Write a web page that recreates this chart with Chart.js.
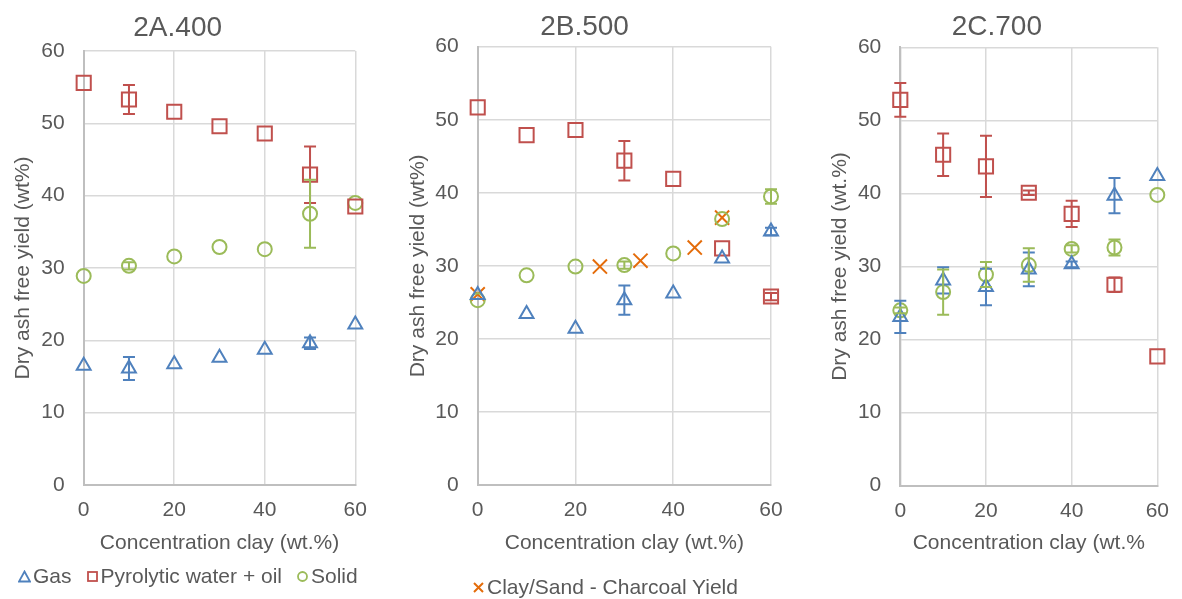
<!DOCTYPE html>
<html>
<head>
<meta charset="utf-8">
<script src="https://cdn.jsdelivr.net/npm/chart.js@4.4.1/dist/chart.umd.min.js"></script>
<style>
  html, body { margin: 0; padding: 0; background: #fff; }
  #wrap { position: relative; width: 1182px; height: 599px; overflow: hidden; font-family: "Liberation Sans", Arial, sans-serif; color: #595959; }
  .box { position: absolute; top: 0; }
  .legend { position: absolute; font-size: 21px; white-space: nowrap; display: flex; align-items: center; }
  .legend svg { margin-right: 2px; }
  .legend span.item { margin-right: 14px; display: inline-flex; align-items: center; }
</style>
</head>
<body>
<div id="wrap">
  <div class="box" style="left:0px"><canvas id="c400" width="391" height="565"></canvas></div>
  <div class="box" style="left:398px"><canvas id="c500" width="399" height="565"></canvas></div>
  <div class="box" style="left:827px"><canvas id="c700" width="355" height="565"></canvas></div>
  <div class="legend" style="left:18px; top:564px;">
    <span class="item"><svg width="13" height="13"><polygon points="6.5,1.5 12,11.5 1,11.5" fill="none" stroke="#4F81BD" stroke-width="1.8"/></svg>Gas</span>
    <span class="item"><svg width="13" height="13"><rect x="2" y="2" width="9" height="9" fill="none" stroke="#C0504D" stroke-width="1.8"/></svg>Pyrolytic water + oil</span>
    <span class="item"><svg width="13" height="13"><circle cx="6.5" cy="6.5" r="4.5" fill="none" stroke="#9BBB59" stroke-width="1.8"/></svg>Solid</span>
  </div>
  <div class="legend" style="left:472px; top:575px;">
    <span class="item"><svg width="13" height="13"><path d="M2,2 L11,11 M11,2 L2,11" stroke="#E46C0A" stroke-width="2"/></svg>Clay/Sand - Charcoal Yield</span>
  </div>
</div>
<script>
// concentration clay (wt.%) - mesmo eixo x para os 3 graficos
const clayPct = [0, 10, 20, 30, 40, 50, 60];
const xTicks = [0, 20, 40, 60];
const yTicks = [0, 10, 20, 30, 40, 50, 60];

// 2A.400
const gas400 = [16.5, 16.1, 16.7, 17.6, 18.7, 19.6, 22.2];
const gasErr400 = [0, 1.6, 0, 0, 0, 0.8, 0];
const liquid400 = [55.6, 53.3, 51.6, 49.6, 48.6, 42.9, 38.5];
const liquidErr400 = [0, 2.0, 0, 0, 0, 3.9, 0];
const solid400 = [28.9, 30.3, 31.6, 32.9, 32.6, 37.5, 39.0];
const solidErr400 = [0, 0.5, 0, 0, 0, 4.7, 0];

// 2B.500
const gas500 = [26.0, 23.4, 21.4, 25.3, 26.2, 31.0, 34.7];
const gasErr500 = [0, 0, 0, 2.0, 0, 0, 0.5];
const liquid500 = [51.7, 47.9, 48.6, 44.4, 41.9, 32.4, 25.8];
const liquidErr500 = [0, 0, 0, 2.7, 0, 0, 0.5];
const solid500 = [25.3, 28.7, 29.9, 30.1, 31.7, 36.4, 39.5];
const solidErr500 = [0, 0, 0, 0.5, 0, 0, 1.0];
const charcoalClay = [0, 25, 33.3, 44.4, 50];
const charcoalYield = [26.1, 29.9, 30.7, 32.5, 36.6];

// 2C.700
const gas700 = [23.1, 28.1, 27.2, 29.6, 30.3, 39.7, 42.4];
const gasErr700 = [2.2, 1.8, 2.5, 2.3, 0.4, 2.4, 0];
const liquid700 = [52.8, 45.3, 43.7, 40.1, 37.2, 27.5, 17.7];
const liquidErr700 = [2.3, 2.9, 4.2, 0.3, 1.8, 1.0, 0];
const solid700 = [24.0, 26.5, 28.9, 30.2, 32.4, 32.6, 39.8];
const solidErr700 = [0.4, 3.1, 1.7, 2.3, 0.5, 1.1, 0];

const FONT = '"Liberation Sans", Arial, sans-serif';
const TXT = '#595959';
const BLUE = '#4F81BD', RED = '#C0504D', GREEN = '#9BBB59', ORANGE = '#E46C0A';

const pts = (xs, ys) => ys.map((v, i) => ({ x: xs[i], y: v }));

// barras de erro verticais (Excel), desenhadas pelas escalas
const errorBars = {
  id: 'errorBars',
  afterDatasetsDraw(chart) {
    const { ctx, scales: { x, y } } = chart;
    chart.data.datasets.forEach((ds) => {
      if (!ds.errors) return;
      ctx.save();
      ctx.strokeStyle = ds.borderColor;
      ctx.lineWidth = 2;
      ds.data.forEach((p, j) => {
        const e = ds.errors[j];
        if (!e) return;
        const px = x.getPixelForValue(p.x);
        const top = y.getPixelForValue(p.y + e);
        const bot = y.getPixelForValue(p.y - e);
        ctx.beginPath();
        ctx.moveTo(px, top); ctx.lineTo(px, bot);
        ctx.moveTo(px - 6, top); ctx.lineTo(px + 6, top);
        ctx.moveTo(px - 6, bot); ctx.lineTo(px + 6, bot);
        ctx.stroke();
      });
      ctx.restore();
    });
  },
};

function series(label, xs, ys, errs, color, style, radius) {
  return {
    label,
    data: pts(xs, ys),
    errors: errs,
    borderColor: color,
    backgroundColor: 'rgba(0,0,0,0)',
    pointStyle: style,
    pointRadius: radius,
    pointHoverRadius: radius,
    pointBorderWidth: 2,
    clip: false,
  };
}

function makeChart(id, o) {
  return new Chart(document.getElementById(id), {
    type: 'scatter',
    data: { datasets: o.datasets },
    plugins: [errorBars],
    options: {
      responsive: false,
      animation: false,
      layout: { padding: { left: 0, right: o.padRight, top: 0, bottom: 0 } },
      plugins: {
        legend: { display: false },
        tooltip: { enabled: false },
        title: {
          display: true,
          text: o.title,
          color: TXT,
          font: { family: FONT, size: 28, weight: 'normal' },
          padding: { top: o.titleTop, bottom: o.titleBottom },
        },
      },
      scales: {
        x: {
          type: 'linear', min: 0, max: 60,
          afterBuildTicks: (s) => { s.ticks = xTicks.map((v) => ({ value: v })); },
          afterFit: (s) => { s.height = o.xHeight; },
          grid: { color: '#d9d9d9', lineWidth: 1.5, drawTicks: false },
          border: { color: '#bfbfbf', width: 2 },
          ticks: { padding: 13, color: TXT, font: { family: FONT, size: 21 } },
          title: { display: true, text: o.xTitle, color: TXT, font: { family: FONT, size: 21 }, padding: { top: 0, bottom: 9 } },
        },
        y: {
          type: 'linear', min: 0, max: 60,
          afterBuildTicks: (s) => { s.ticks = yTicks.map((v) => ({ value: v })); },
          afterFit: (s) => { s.width = o.yWidth; },
          grid: { color: '#d9d9d9', lineWidth: 1.5, drawTicks: false },
          border: { color: '#bfbfbf', width: 2 },
          ticks: { padding: 19, color: TXT, font: { family: FONT, size: 21 } },
          title: { display: true, text: o.yTitle, color: TXT, font: { family: FONT, size: 21 }, padding: { top: o.yTitlePad, bottom: 0 } },
        },
      },
    },
  });
}

makeChart('c400', {
  title: '2A.400', titleTop: 11, titleBottom: 6.4,
  xTitle: 'Concentration clay (wt.%)', yTitle: 'Dry ash free yield (wt%)',
  yWidth: 83.7, xHeight: 80, padRight: 35.7, yTitlePad: 10.4,
  datasets: [
    series('Gas', clayPct, gas400, gasErr400, BLUE, 'triangle', 8),
    series('Pyrolytic water + oil', clayPct, liquid400, liquidErr400, RED, 'rect', 10),
    series('Solid', clayPct, solid400, solidErr400, GREEN, 'circle', 7),
  ],
});

makeChart('c500', {
  title: '2B.500', titleTop: 10, titleBottom: 3.1,
  xTitle: 'Concentration clay (wt.%)', yTitle: 'Dry ash free yield (wt%)',
  yWidth: 79.7, xHeight: 80, padRight: 26, yTitlePad: 7.4,
  datasets: [
    series('Gas', clayPct, gas500, gasErr500, BLUE, 'triangle', 8),
    series('Pyrolytic water + oil', clayPct, liquid500, liquidErr500, RED, 'rect', 10),
    series('Solid', clayPct, solid500, solidErr500, GREEN, 'circle', 7),
    series('Clay/Sand - Charcoal Yield', charcoalClay, charcoalYield, null, ORANGE, 'crossRot', 10),
  ],
});

makeChart('c700', {
  title: '2C.700', titleTop: 10, titleBottom: 3.7,
  xTitle: 'Concentration clay (wt.%', yTitle: 'Dry ash free yield (wt.%)',
  yWidth: 73.3, xHeight: 79.3, padRight: 15.3, yTitlePad: 0.4,
  datasets: [
    series('Gas', clayPct, gas700, gasErr700, BLUE, 'triangle', 8),
    series('Pyrolytic water + oil', clayPct, liquid700, liquidErr700, RED, 'rect', 10),
    series('Solid', clayPct, solid700, solidErr700, GREEN, 'circle', 7),
  ],
});
</script>
</body>
</html>
